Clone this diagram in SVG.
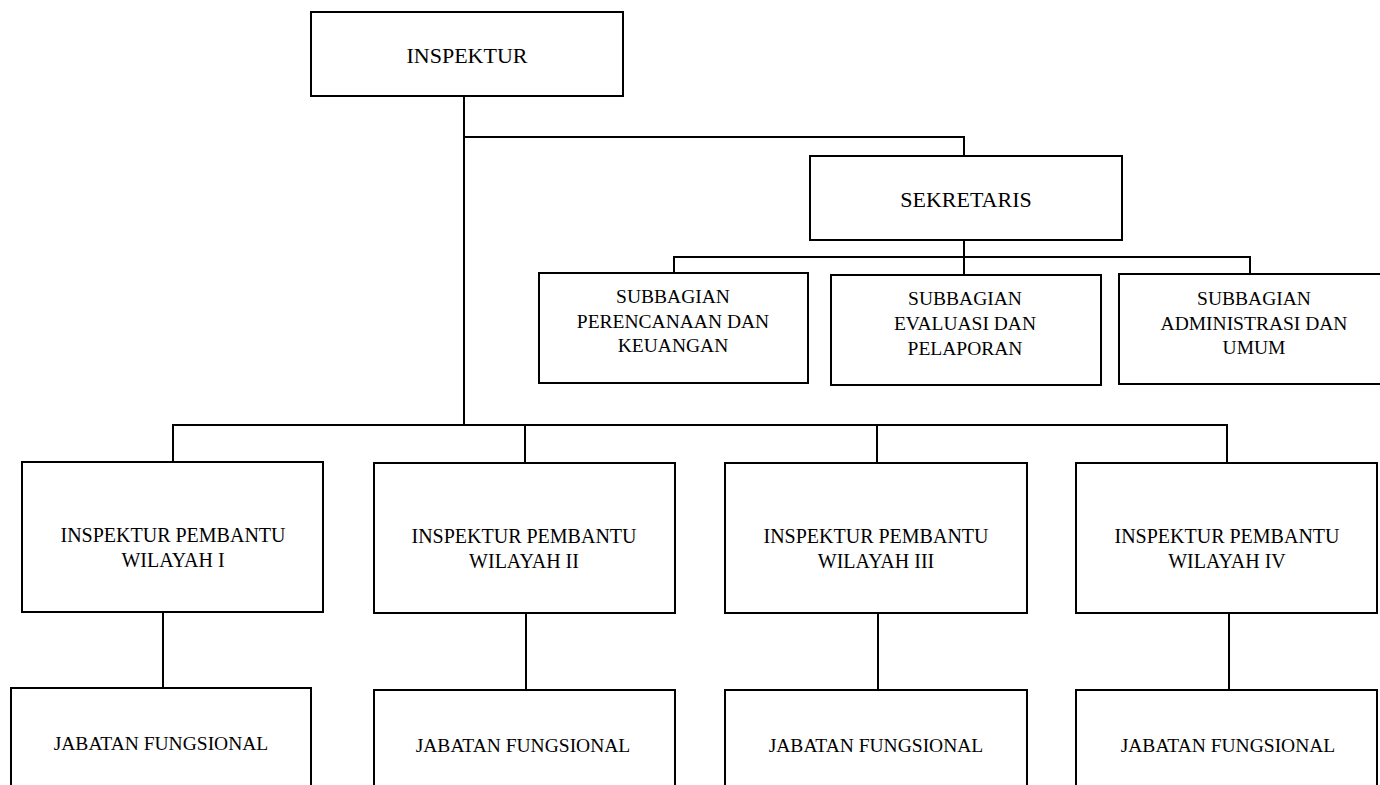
<svg xmlns="http://www.w3.org/2000/svg" width="1380" height="785" viewBox="0 0 1380 785">
<style>
.box{fill:#fff;stroke:#000;stroke-width:2}
.c{fill:none;stroke:#000;stroke-width:2}
text{font-family:"Liberation Serif","Times New Roman",serif;fill:#000;text-anchor:middle}
.t1{font-size:22px}
.t2{font-size:19.5px}
.t3{font-size:20px}
</style>
<rect width="1380" height="785" fill="#fff"/>
<g id="connectors">
<path class="c" d="M464 96 V425"/>
<path class="c" d="M464 137 H964 V156"/>
<path class="c" d="M964 240 V275"/>
<path class="c" d="M674 273 V257 H1250 V274"/>
<path class="c" d="M173 462 V425 H1227 V463"/>
<path class="c" d="M525 425 V463"/>
<path class="c" d="M877 425 V463"/>
<path class="c" d="M163 612 V688"/>
<path class="c" d="M526 613 V690"/>
<path class="c" d="M878 613 V690"/>
<path class="c" d="M1229 613 V690"/>
</g>
<g id="inspektur"><rect class="box" x="311" y="12" width="312" height="84"/><text class="t1" x="467" y="63">INSPEKTUR</text></g>
<g id="sekretaris"><rect class="box" x="810" y="156" width="312" height="84"/><text class="t1" x="966" y="207">SEKRETARIS</text></g>
<g id="sub1"><rect class="box" x="539" y="273" width="269" height="110"/><text class="t2" x="673" y="303">SUBBAGIAN</text><text class="t2" x="673" y="328">PERENCANAAN DAN</text><text class="t2" x="673" y="352">KEUANGAN</text></g>
<g id="sub2"><rect class="box" x="831" y="275" width="270" height="110"/><text class="t2" x="965" y="305">SUBBAGIAN</text><text class="t2" x="965" y="330">EVALUASI DAN</text><text class="t2" x="965" y="355">PELAPORAN</text></g>
<g id="sub3"><rect class="box" x="1119" y="274" width="270" height="110"/><text class="t2" x="1254" y="305">SUBBAGIAN</text><text class="t2" x="1254" y="330">ADMINISTRASI DAN</text><text class="t2" x="1254" y="354">UMUM</text></g>
<g id="ipw1"><rect class="box" x="22" y="462" width="301" height="150"/><text class="t3" x="173" y="542">INSPEKTUR PEMBANTU</text><text class="t3" x="173" y="567">WILAYAH I</text></g>
<g id="ipw2"><rect class="box" x="374" y="463" width="301" height="150"/><text class="t3" x="524" y="543">INSPEKTUR PEMBANTU</text><text class="t3" x="524" y="568">WILAYAH II</text></g>
<g id="ipw3"><rect class="box" x="725" y="463" width="302" height="150"/><text class="t3" x="876" y="543">INSPEKTUR PEMBANTU</text><text class="t3" x="876" y="568">WILAYAH III</text></g>
<g id="ipw4"><rect class="box" x="1076" y="463" width="301" height="150"/><text class="t3" x="1227" y="543">INSPEKTUR PEMBANTU</text><text class="t3" x="1227" y="568">WILAYAH IV</text></g>
<g id="jf1"><rect class="box" x="11" y="688" width="300" height="120"/><text class="t2" x="161" y="750">JABATAN FUNGSIONAL</text></g>
<g id="jf2"><rect class="box" x="374" y="690" width="301" height="120"/><text class="t2" x="523" y="752">JABATAN FUNGSIONAL</text></g>
<g id="jf3"><rect class="box" x="725" y="690" width="302" height="120"/><text class="t2" x="876" y="752">JABATAN FUNGSIONAL</text></g>
<g id="jf4"><rect class="box" x="1076" y="690" width="301" height="120"/><text class="t2" x="1228" y="752">JABATAN FUNGSIONAL</text></g>
</svg>
